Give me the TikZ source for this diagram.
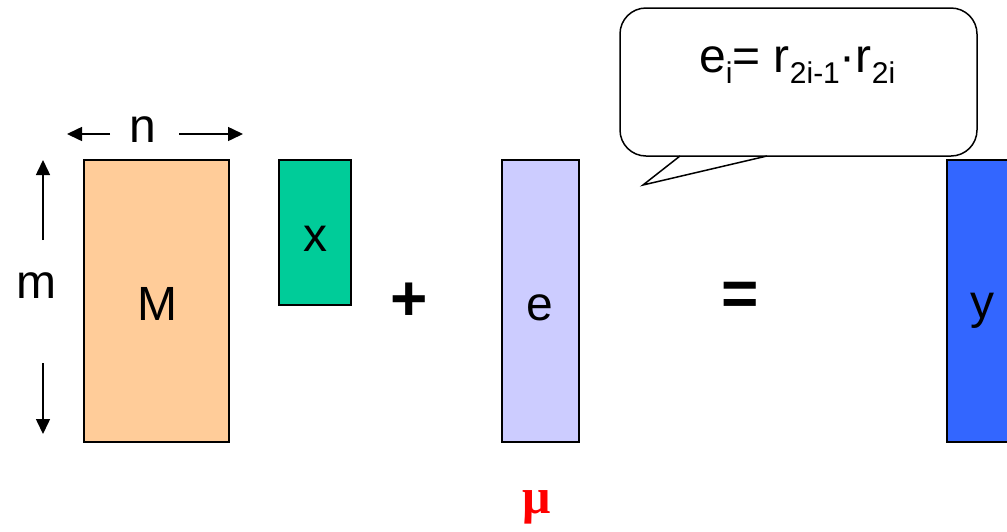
\documentclass[tikz,border=0pt]{standalone}
\usepackage{fontspec}
\setmainfont{Liberation Sans}
\newfontfamily\serifmu{Liberation Serif}
\usetikzlibrary{arrows.meta}
\definecolor{Mfill}{HTML}{FFCC99}
\definecolor{xfill}{HTML}{00CC99}
\definecolor{efill}{HTML}{CCCCFF}
\definecolor{yfill}{HTML}{3366FF}
\tikzset{
  mat/.style={draw=black, line width=2pt},
  lbl/.style={inner sep=0pt, font=\fontsize{48}{56}\selectfont},
  op/.style={inner sep=0pt, font=\fontsize{64}{70}\selectfont\bfseries},
  dimarrow/.style={line width=1.5pt, -{Triangle[length=15pt,width=14pt]}},
}
\newcommand{\subtxt}[1]{\raisebox{-11pt}{\fontsize{30}{34}\selectfont #1}}
\begin{document}
\begin{tikzpicture}[x=1pt,y=-1pt]
\useasboundingbox (0,0) rectangle (1007,531);
\clip (0,0) rectangle (1007,531);
% matrices and vectors
\path[mat, fill=Mfill] (84,160) rectangle (229,442);
\path[mat, fill=xfill] (279,160) rectangle (351,305);
\path[mat, fill=efill] (502,160) rectangle (579,442);
\path[mat, fill=yfill] (947,160) rectangle (1020,442);
\node[lbl, anchor=base] (Mlbl) at (157,320) {M};
\node[lbl, anchor=base] (xlbl) at (315,251) {x};
\node[lbl, anchor=base] (elbl) at (540,320) {e};
\node[lbl, anchor=base] (ylbl) at (982,318) {y};
% operators
\node[op] (plus) at (409,302) {+};
\node[op] (eq) at (740,299) {=};
% dimension labels
\node[lbl, anchor=base] (n) at (143,142) {n};
\node[lbl, anchor=base] (m) at (36,298) {m};
\coordinate (nL0) at (110,134); \coordinate (nL1) at (67,134);
\coordinate (nR0) at (179,134); \coordinate (nR1) at (243,134);
\coordinate (mU0) at (43,240); \coordinate (mU1) at (43,160);
\coordinate (mD0) at (43,363); \coordinate (mD1) at (43,434);
\draw[dimarrow] (nL0) -- (nL1);
\draw[dimarrow] (nR0) -- (nR1);
\draw[dimarrow] (mU0) -- (mU1);
\draw[dimarrow] (mD0) -- (mD1);
% mu
\node[inner sep=0pt, text=red, font=\fontsize{50}{56}\selectfont\serifmu\bfseries] (mu) at (537,507) {μ};
% callout
\node[draw=black, line width=1.5pt, fill=white, rounded corners=26pt,
      minimum width=357pt, minimum height=148pt, inner sep=0pt] (bubble) at (798.5,82) {};
\coordinate (tA) at (680,156);
\coordinate (tip) at (643,185);
\coordinate (tB) at (767,156);
\fill[white] ([yshift=-2pt]tA) -- (tip) -- ([yshift=-2pt]tB) -- cycle;
\draw[line width=1.5pt, line join=miter] (tA) -- (tip) -- (tB);
\node[lbl, anchor=base west] (formula) at (699,72)
  {e\subtxt{i}= r\subtxt{2i-1}·r\subtxt{2i}};
\end{tikzpicture}
\end{document}
